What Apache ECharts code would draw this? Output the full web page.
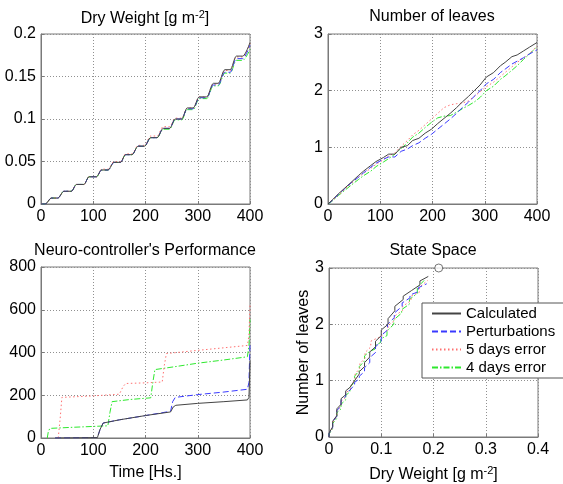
<!DOCTYPE html>
<html>
<head>
<meta charset="utf-8">
<script src="https://cdn.jsdelivr.net/npm/echarts@6/dist/echarts.min.js"></script>
<style>html,body{margin:0;padding:0;background:#fff}#c{width:563px;height:484px}</style>
</head>
<body>
<div id="c"></div>
<script>
// ---- data ----
const seriesNames = ['Calculated', 'Perturbations', '5 days error', '4 days error'];
const timeHs = [0,8,20,32,44,58,68,82,92,106,116,128,140,152,162,174,186,198,210,222,234,246,257,269,280,291,303,317,330,339,352,362,374,386,400];
const dwCalc = [0,0,0.007,0.007,0.015,0.015,0.023,0.023,0.032,0.032,0.040,0.040,0.049,0.049,0.058,0.058,0.068,0.068,0.078,0.078,0.089,0.089,0.100,0.100,0.113,0.113,0.126,0.126,0.142,0.142,0.158,0.158,0.174,0.174,0.190];
const dwPert = [0,0,0.007,0.007,0.015,0.015,0.023,0.023,0.032,0.032,0.040,0.040,0.049,0.049,0.058,0.058,0.068,0.068,0.078,0.078,0.089,0.089,0.100,0.100,0.112,0.112,0.125,0.125,0.140,0.140,0.155,0.155,0.171,0.171,0.187];
const dw5d = [0,0,0.007,0.007,0.015,0.015,0.023,0.023,0.032,0.032,0.041,0.041,0.050,0.050,0.059,0.059,0.069,0.069,0.080,0.080,0.091,0.091,0.101,0.101,0.113,0.113,0.126,0.126,0.141,0.141,0.157,0.157,0.173,0.173,0.189];
const dw4d = [0,0,0.007,0.007,0.015,0.015,0.023,0.023,0.032,0.032,0.040,0.040,0.049,0.049,0.058,0.058,0.068,0.068,0.078,0.078,0.088,0.088,0.099,0.099,0.111,0.111,0.124,0.124,0.139,0.139,0.154,0.154,0.169,0.169,0.182];
const leavesCalc = [0,0.07,0.18,0.28,0.38,0.50,0.58,0.68,0.75,0.82,0.88,0.88,1.00,1.03,1.12,1.16,1.25,1.32,1.42,1.51,1.60,1.70,1.80,1.90,2.00,2.10,2.24,2.32,2.44,2.50,2.60,2.63,2.70,2.77,2.85];
const leavesPert = [0,0.06,0.17,0.27,0.37,0.47,0.55,0.65,0.72,0.79,0.83,0.83,0.93,0.97,1.03,1.08,1.16,1.23,1.32,1.41,1.50,1.60,1.70,1.80,1.90,2.00,2.12,2.20,2.32,2.38,2.47,2.52,2.58,2.65,2.72];
const leaves5d = [0,0.06,0.16,0.26,0.36,0.47,0.54,0.63,0.70,0.78,0.85,0.90,1.02,1.12,1.22,1.30,1.40,1.50,1.60,1.70,1.75,1.77,1.78,1.82,1.90,1.98,2.07,2.15,2.25,2.32,2.42,2.50,2.57,2.66,2.78];
const leaves4d = [0,0.05,0.15,0.24,0.33,0.43,0.50,0.58,0.66,0.74,0.80,0.88,0.98,1.08,1.18,1.25,1.35,1.44,1.52,1.55,1.56,1.62,1.68,1.74,1.80,1.88,2.00,2.08,2.20,2.26,2.36,2.44,2.55,2.65,2.78];
const perfCalcT = [27,108,113,119,150,200,248,253,258,300,350,395,398,400];
const perfCalcV = [0,2,40,70,85,105,122,145,153,162,170,178,190,360];
const perfPertT = [27,108,113,119,150,200,248,252,257,300,350,395,398,400];
const perfPertV = [0,2,40,70,85,105,125,170,190,203,215,228,260,440];
const perf5dT = [33,37,40,100,150,157,162,200,232,236,240,300,350,395,398,400];
const perf5dV = [0,100,190,197,205,240,255,258,262,340,395,410,422,433,480,620];
const perf4dT = [12,14,17,60,128,132,136,170,210,214,218,260,300,350,395,398,400];
const perf4dV = [0,30,45,50,57,120,170,180,188,260,320,335,350,365,380,430,555];
const targetPoint = [0.21, 3];

// ---- styles ----
const FONT = 'Arial, "Liberation Sans", sans-serif';
const colors = ['#444444', '#3a3aff', '#ff7070', '#2ee82e'];
const dashes = ['solid', [6, 3], [1.5, 2.5], [6, 2, 1.5, 2]];

function zip(a, b) { return a.map((v, i) => [v, b[i]]); }

const grids = [
  { left: 41, top: 34, width: 209, height: 170 },
  { left: 328, top: 34, width: 209, height: 170 },
  { left: 41, top: 267, width: 209, height: 171 },
  { left: 329, top: 268, width: 209, height: 170 }
].map(g => Object.assign({ show: true, borderColor: '#7a7a7a', borderWidth: 1, backgroundColor: '#fff', containLabel: false }, g));

function axis(gi, min, max, interval, extra) {
  return Object.assign({
    gridIndex: gi, type: 'value', min: min, max: max, interval: interval,
    axisLine: { show: true, onZero: false, lineStyle: { color: '#7a7a7a' } },
    axisTick: { show: true, inside: true, length: 3, lineStyle: { color: '#7a7a7a' } },
    axisLabel: { color: '#000', fontSize: 16, fontFamily: FONT, margin: 5 },
    splitLine: { show: true, lineStyle: { color: '#909090', type: [1, 2], width: 1 } }
  }, extra || {});
}

const xAxes = [
  axis(0, 0, 400, 100),
  axis(1, 0, 400, 100),
  axis(2, 0, 400, 100, { name: 'Time [Hs.]', nameLocation: 'middle', nameGap: 27, nameTextStyle: { color: '#000', fontSize: 16, fontFamily: FONT } }),
  axis(3, 0, 0.4, 0.1, { name: '{n|Dry Weight [g m}{s|-2}{n|]}', nameLocation: 'middle', nameGap: 28,
    nameTextStyle: { color: '#000', fontSize: 16, fontFamily: FONT,
      rich: { n: { fontSize: 16, fontFamily: FONT, color: '#000' }, s: { fontSize: 11, fontFamily: FONT, color: '#000', padding: [0, 0, 9, 0] } } } })
];
const yAxes = [
  axis(0, 0, 0.2, 0.05),
  axis(1, 0, 3, 1),
  axis(2, 0, 800, 200),
  axis(3, 0, 3, 1, { name: 'Number of leaves', nameLocation: 'middle', nameGap: 11, nameTextStyle: { color: '#000', fontSize: 16, fontFamily: FONT } })
];

const series = [];
function addLine(gi, idx, data, smooth) {
  series.push({
    name: seriesNames[idx], type: 'line', xAxisIndex: gi, yAxisIndex: gi, data: data,
    symbol: 'none', showSymbol: false, smooth: smooth || false, smoothMonotone: smooth ? 'x' : undefined,
    lineStyle: { color: colors[idx], width: 1, type: dashes[idx] },
    itemStyle: { color: colors[idx] }, animation: false, z: 4 - idx + 2
  });
}
const dws = [dwCalc, dwPert, dw5d, dw4d];
const leaves = [leavesCalc, leavesPert, leaves5d, leaves4d];
const perfT = [perfCalcT, perfPertT, perf5dT, perf4dT];
const perfV = [perfCalcV, perfPertV, perf5dV, perf4dV];
for (let i = 3; i >= 0; i--) {
  addLine(0, i, zip(timeHs, dws[i]), 0.35);
  addLine(1, i, zip(timeHs, leaves[i]));
  addLine(2, i, zip(perfT[i], perfV[i]));
  addLine(3, i, zip(dws[i], leaves[i]));
}
series.push({
  type: 'scatter', xAxisIndex: 3, yAxisIndex: 3, data: [targetPoint], symbol: 'circle', symbolSize: 8,
  itemStyle: { color: '#fff', borderColor: '#555', borderWidth: 1 }, clip: false, z: 10, silent: true
});

function titleText(x, y, text, rich) {
  return { type: 'text', x: x, y: y, z: 100,
    style: { text: text, fill: '#000', font: '16px ' + FONT, textAlign: 'center', textVerticalAlign: 'top', rich: rich } };
}
const supRich = { n: { fontSize: 16, fontFamily: FONT, fill: '#000' }, s: { fontSize: 11, fontFamily: FONT, fill: '#000', padding: [0, 0, 9, 0] } };

const chart = echarts.init(document.getElementById('c'), null, { renderer: 'canvas' });
chart.setOption({
  animation: false,
  backgroundColor: '#fff',
  grid: grids,
  xAxis: xAxes,
  yAxis: yAxes,
  series: series,
  legend: {
    data: seriesNames, orient: 'vertical', left: 422, top: 303,
    backgroundColor: '#fff', borderColor: '#555', borderWidth: 1,
    padding: [3, 10, 3, 9], itemGap: 3, itemWidth: 29, itemHeight: 14,
    itemStyle: { opacity: 0 },
    textStyle: { color: '#000', fontSize: 15, fontFamily: FONT }, selectedMode: false, z: 20
  },
  graphic: [
    titleText(145, 9, '{n|Dry Weight [g m}{s|-2}{n|]}', supRich),
    titleText(432, 9, 'Number of leaves'),
    titleText(145, 243, "Neuro-controller's Performance"),
    titleText(433, 243, 'State Space')
  ]
});
</script>
</body>
</html>
